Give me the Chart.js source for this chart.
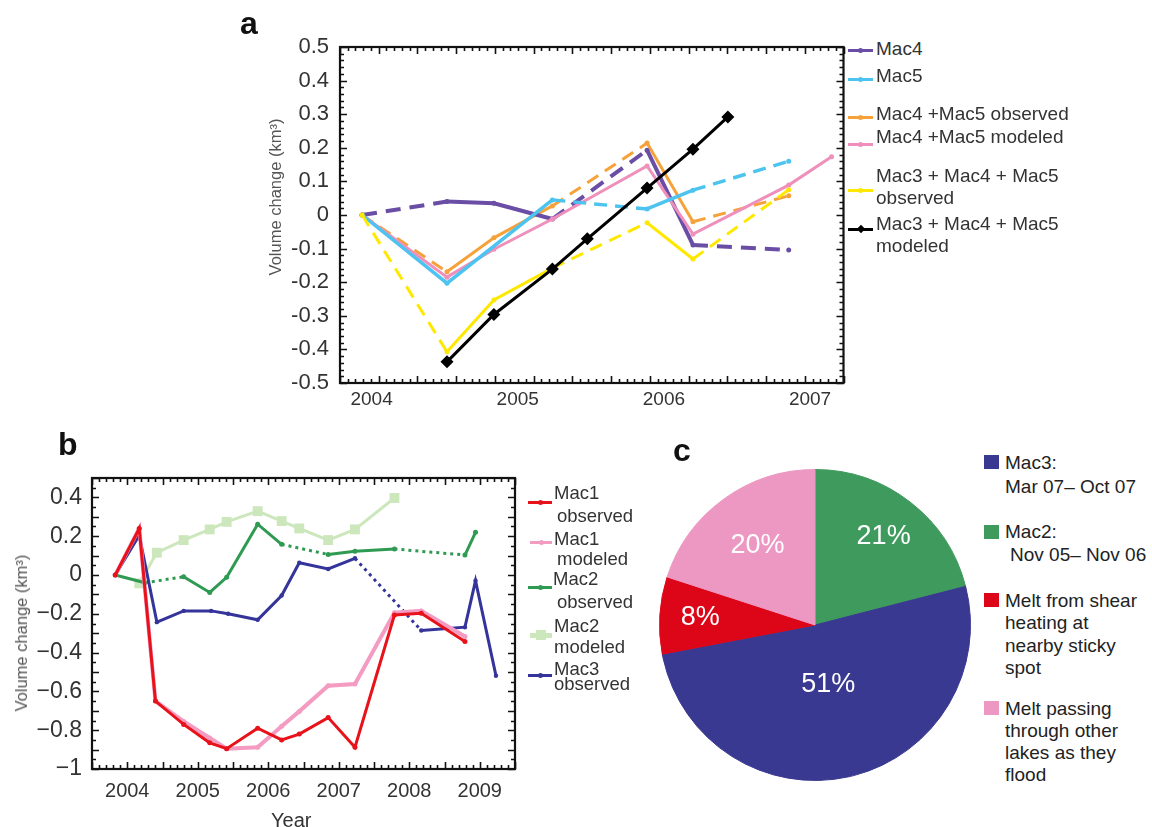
<!DOCTYPE html>
<html>
<head>
<meta charset="utf-8">
<title>Subglacial lake volume change</title>
<script src="https://cdn.jsdelivr.net/npm/chart.js"></script>
<style>
  html, body { margin: 0; padding: 0; background: #fff; }
  body { width: 1152px; height: 827px; overflow: hidden; position: relative;
         font-family: "Liberation Sans", Arial, Helvetica, sans-serif; }
  canvas { position: absolute; }
  .txt { position: absolute; white-space: pre; }
  .box { position: absolute; }
</style>
</head>
<body>
<canvas id="chartA" width="620" height="400" style="left:230px;top:20px;width:620px;height:400px"></canvas>
<canvas id="chartB" width="522" height="400" style="left:0px;top:440px;width:522px;height:400px"></canvas>
<canvas id="chartC" width="330" height="330" style="left:650px;top:460px;width:330px;height:330px"></canvas>
<script>
// ---------------- Panel a: Mac3–Mac5 volume change (km³) ----------------
const aYearTicks = [2004, 2005, 2006, 2007];
const aVolumeTicks = [0.5, 0.4, 0.3, 0.2, 0.1, 0, -0.1, -0.2, -0.3, -0.4, -0.5];

const mac4Years = [2003.935, 2004.516, 2004.837, 2005.237, 2005.885, 2006.199, 2006.854];
const mac4Volume = [0, 0.040, 0.035, -0.012, 0.193, -0.089, -0.104];

const mac5Years = [2003.935, 2004.516, 2005.237, 2005.885, 2006.199, 2006.854];
const mac5Volume = [0, -0.203, 0.045, 0.018, 0.074, 0.160];

const mac45ObsYears = [2003.935, 2004.516, 2004.837, 2005.237, 2005.885, 2006.199, 2006.854];
const mac45ObsVolume = [0, -0.169, -0.068, 0.027, 0.214, -0.020, 0.057];

const mac45ModYears = [2003.935, 2004.516, 2004.837, 2005.237, 2005.885, 2006.199, 2006.854, 2007.147];
const mac45ModVolume = [0, -0.185, -0.102, -0.012, 0.146, -0.057, 0.089, 0.173];

const mac345ObsYears = [2003.935, 2004.516, 2004.837, 2005.237, 2005.885, 2006.199, 2006.854];
const mac345ObsVolume = [0, -0.407, -0.253, -0.158, -0.023, -0.131, 0.075];

const mac345ModYears = [2004.516, 2004.837, 2005.237, 2005.476, 2005.885, 2006.199, 2006.438];
const mac345ModVolume = [-0.437, -0.296, -0.161, -0.071, 0.080, 0.196, 0.292];

// ---------------- Panel b: Mac1–Mac3 volume change (km³) ----------------
const bYearTicks = [2004, 2005, 2006, 2007, 2008, 2009];
const bVolumeTicks = [0.4, 0.2, 0, -0.2, -0.4, -0.6, -0.8, -1];

const mac1Years = [2003.83, 2004.17, 2004.40, 2004.80, 2005.17, 2005.41, 2005.85, 2006.19, 2006.44, 2006.85, 2007.23, 2007.79, 2008.17, 2008.79];
const mac1Observed = [0, 0.24, -0.65, -0.77, -0.865, -0.895, -0.79, -0.85, -0.82, -0.735, -0.888, -0.206, -0.197, -0.343];
const mac1Modeled = [0, 0.24, -0.65, -0.755, -0.84, -0.895, -0.888, -0.78, -0.703, -0.571, -0.562, -0.194, -0.185, -0.317];

const mac2ObsYears = [2003.83, 2004.25, 2004.80, 2005.17, 2005.41, 2005.85, 2006.19, 2006.85, 2007.23, 2007.79, 2008.79, 2008.94];
const mac2Observed = [0, -0.04, -0.009, -0.09, -0.012, 0.262, 0.158, 0.106, 0.123, 0.134, 0.103, 0.22];

const mac2ModYears = [2004.17, 2004.42, 2004.80, 2005.17, 2005.41, 2005.85, 2006.19, 2006.44, 2006.85, 2007.23, 2007.79];
const mac2Modeled = [-0.043, 0.115, 0.18, 0.235, 0.274, 0.329, 0.278, 0.24, 0.18, 0.235, 0.397];

const mac3Years = [2003.83, 2004.17, 2004.42, 2004.80, 2005.19, 2005.43, 2005.85, 2006.19, 2006.44, 2006.85, 2007.23, 2008.17, 2008.79, 2008.94, 2009.23];
const mac3Observed = [0, 0.205, -0.243, -0.185, -0.185, -0.2, -0.231, -0.106, 0.063, 0.031, 0.086, -0.286, -0.269, -0.029, -0.519];

// ---------------- Panel c: sources of Mac1 inflow (%) ----------------
const pieCategories = ['Mac2: Nov 05– Nov 06', 'Mac3: Mar 07– Oct 07',
  'Melt from shear heating at nearby sticky spot', 'Melt passing through other lakes as they flood'];
const pieShares = [21, 51, 8, 20];

// ---------------- styling ----------------
const FONT = '"Liberation Sans", Arial, Helvetica, sans-serif';
Chart.defaults.font.family = FONT;
Chart.defaults.color = '#333';
Chart.defaults.animation = false;

const C = {
  mac4: '#6a4ea6', mac5: '#4dc3f0', obs45: '#f6a23a', mod45: '#ef8fbb', obs345: '#ffe800', mod345: '#000000',
  m1obs: '#e8121b', m1mod: '#f49bc2', m2obs: '#2f9a52', m2mod: '#cde7bd', m3obs: '#34349a',
  pieMac2: '#3f9a5e', pieMac3: '#3a3991', pieShear: '#dc0618', pieLakes: '#ec98c2'
};

// which segments (starting at point i) are drawn broken
const mac4Broken = [1, 0, 0, 1, 0, 1];
const mac5Broken = [0, 0, 1, 0, 1];
const obs45Broken = [1, 0, 0, 1, 0, 1];
const obs345Broken = [1, 0, 0, 1, 0, 1];
const m2obsBroken = [0, 1, 0, 0, 0, 0, 1, 0, 0, 1, 0];
const m3obsBroken = [0, 0, 0, 0, 0, 0, 0, 0, 0, 0, 1, 0, 0, 0];

const pts = (xs, ys) => xs.map((x, i) => ({ x, y: ys[i] }));

function lineSet(label, xs, ys, color, width, broken, dash, extra) {
  return Object.assign({
    label, data: pts(xs, ys), borderColor: color, backgroundColor: color,
    borderWidth: width, pointRadius: 2.5, pointBorderWidth: 0, pointHoverRadius: 0,
    pointBackgroundColor: color, tension: 0, fill: false,
    segment: { borderDash: ctx => (broken && broken[ctx.p0DataIndex]) ? dash : undefined }
  }, extra || {});
}

// frame with inward tick marks on all four sides
function makeFrame(cfg) {
  return {
    id: 'frameTicks',
    afterDraw(chart) {
      const { ctx, chartArea: a } = chart;
      const xs = chart.scales.x, ys = chart.scales.y;
      ctx.save();
      ctx.setLineDash([]);
      ctx.strokeStyle = '#111111';
      ctx.lineWidth = 1.6;
      ctx.beginPath();
      for (let i = 0; i <= cfg.xN; i++) {
        const v = cfg.xMin + (cfg.xMax - cfg.xMin) * i / cfg.xN;
        const p = Math.round(xs.getPixelForValue(v)) + 0.5;
        const len = (i % cfg.xEvery === 0) ? cfg.major : cfg.minor;
        ctx.moveTo(p, a.bottom); ctx.lineTo(p, a.bottom - len);
        ctx.moveTo(p, a.top); ctx.lineTo(p, a.top + len);
      }
      for (let i = 0; i <= cfg.yN; i++) {
        const v = cfg.yMin + (cfg.yMax - cfg.yMin) * i / cfg.yN;
        const p = Math.round(ys.getPixelForValue(v)) + 0.5;
        const len = (i % cfg.yEvery === 0) ? cfg.major : cfg.minor;
        ctx.moveTo(a.left, p); ctx.lineTo(a.left + len, p);
        ctx.moveTo(a.right, p); ctx.lineTo(a.right - len, p);
      }
      ctx.stroke();
      ctx.lineWidth = 2.2;
      ctx.strokeRect(a.left, a.top, a.right - a.left, a.bottom - a.top);
      ctx.restore();
    }
  };
}

const A_X_MIN = 2003.784, A_X_MAX = 2007.229;
const B_X_MIN = 2003.5, B_X_MAX = 2009.5;

const fmtA = v => v === 0 ? '0' : v.toFixed(1);
const fmtB = v => v === 0 ? '0' : (v < 0 ? '\u2212' : '') + (Number.isInteger(v) ? String(Math.abs(v)) : Math.abs(v).toFixed(1));

// ---------------- Panel a chart ----------------
const dashA = [13, 8];
new Chart(document.getElementById('chartA'), {
  type: 'line',
  data: {
    datasets: [
      lineSet('Mac3 + Mac4 + Mac5 modeled', mac345ModYears, mac345ModVolume, C.mod345, 3, null, dashA,
        { pointStyle: 'rectRot', pointRadius: 6.5 }),
      lineSet('Mac3 + Mac4 + Mac5 observed', mac345ObsYears, mac345ObsVolume, C.obs345, 3, obs345Broken, dashA),
      lineSet('Mac5', mac5Years, mac5Volume, C.mac5, 3.5, mac5Broken, dashA),
      lineSet('Mac4 +Mac5 modeled', mac45ModYears, mac45ModVolume, C.mod45, 3, null, dashA),
      lineSet('Mac4', mac4Years, mac4Volume, C.mac4, 4, mac4Broken, [15, 9]),
      lineSet('Mac4 +Mac5 observed', mac45ObsYears, mac45ObsVolume, C.obs45, 3, obs45Broken, dashA)
    ]
  },
  options: {
    responsive: false,
    animation: false,
    events: [],
    layout: { padding: { left: 0, top: 27, right: 5, bottom: 0 } },
    plugins: { legend: { display: false }, tooltip: { enabled: false } },
    scales: {
      x: {
        type: 'linear', min: A_X_MIN, max: A_X_MAX,
        grid: { display: false, drawTicks: false }, border: { display: false },
        afterBuildTicks: s => { s.ticks = aYearTicks.map(v => ({ value: v })); },
        afterFit: s => { s.height = 37; },
        ticks: { autoSkip: false, maxRotation: 0, padding: 5, color: '#333', font: { size: 19 }, callback: v => String(v) }
      },
      y: {
        type: 'linear', min: -0.5, max: 0.5,
        grid: { display: false, drawTicks: false }, border: { display: false },
        afterBuildTicks: s => { s.ticks = aVolumeTicks.map(v => ({ value: v })); },
        afterFit: s => { s.width = 110; },
        ticks: { autoSkip: false, padding: 11, color: '#333', font: { size: 22 }, callback: v => fmtA(v) }
      }
    }
  },
  plugins: [makeFrame({ xMin: A_X_MIN, xMax: A_X_MAX, xN: 65, xEvery: 5,
                        yMin: -0.5, yMax: 0.5, yN: 50, yEvery: 5, major: 7, minor: 4 })]
});

// ---------------- Panel b chart ----------------
const dotB = [3, 4];
new Chart(document.getElementById('chartB'), {
  type: 'line',
  data: {
    datasets: [
      lineSet('Mac1 observed', mac1Years, mac1Observed, C.m1obs, 3, null, dotB),
      lineSet('Mac1 modeled', mac1Years, mac1Modeled, C.m1mod, 4, null, dotB),
      lineSet('Mac3 observed', mac3Years, mac3Observed, C.m3obs, 3, m3obsBroken, dotB, { pointRadius: 2.2 }),
      lineSet('Mac2 observed', mac2ObsYears, mac2Observed, C.m2obs, 3, m2obsBroken, dotB),
      lineSet('Mac2 modeled', mac2ModYears, mac2Modeled, C.m2mod, 3, null, dotB, { pointStyle: 'rect', pointRadius: 7 })
    ]
  },
  options: {
    responsive: false,
    animation: false,
    events: [],
    layout: { padding: { left: 0, top: 38, right: 5, bottom: 0 } },
    plugins: { legend: { display: false }, tooltip: { enabled: false } },
    scales: {
      x: {
        type: 'linear', min: B_X_MIN, max: B_X_MAX,
        grid: { display: false, drawTicks: false }, border: { display: false },
        afterBuildTicks: s => { s.ticks = bYearTicks.map(v => ({ value: v })); },
        afterFit: s => { s.height = 71; },
        ticks: { autoSkip: false, maxRotation: 0, padding: 10, color: '#333', font: { size: 20 }, callback: v => String(v) }
      },
      y: {
        type: 'linear', min: -1, max: 0.5,
        grid: { display: false, drawTicks: false }, border: { display: false },
        afterBuildTicks: s => { s.ticks = bVolumeTicks.map(v => ({ value: v })); },
        afterFit: s => { s.width = 92; },
        ticks: { autoSkip: false, padding: 10, color: '#333', font: { size: 23 }, callback: v => fmtB(v) }
      }
    }
  },
  plugins: [makeFrame({ xMin: B_X_MIN, xMax: B_X_MAX, xN: 60, xEvery: 5,
                        yMin: -1, yMax: 0.5, yN: 30, yEvery: 2, major: 7, minor: 4 })]
});

// ---------------- Panel c chart ----------------
const pieColors = [C.pieMac2, C.pieMac3, C.pieShear, C.pieLakes];
const labelRadial = [0.72, 0.39, 0.74, 0.63];
const sliceLabels = {
  id: 'sliceLabels',
  afterDatasetsDraw(chart) {
    const { ctx } = chart;
    const meta = chart.getDatasetMeta(0);
    const values = chart.data.datasets[0].data;
    ctx.save();
    ctx.fillStyle = '#ffffff';
    ctx.font = '27px ' + FONT;
    ctx.textAlign = 'center';
    ctx.textBaseline = 'middle';
    meta.data.forEach((arc, i) => {
      const { x, y, startAngle, endAngle, outerRadius } =
        arc.getProps(['x', 'y', 'startAngle', 'endAngle', 'outerRadius'], true);
      const mid = (startAngle + endAngle) / 2;
      const r = outerRadius * labelRadial[i];
      ctx.fillText(values[i] + '%', x + Math.cos(mid) * r, y + Math.sin(mid) * r);
    });
    ctx.restore();
  }
};
new Chart(document.getElementById('chartC'), {
  type: 'pie',
  data: {
    labels: pieCategories,
    datasets: [{ data: pieShares, backgroundColor: pieColors, borderColor: pieColors, borderWidth: 1 }]
  },
  options: {
    responsive: false,
    animation: false,
    events: [],
    layout: { padding: 9 },
    plugins: { legend: { display: false }, tooltip: { enabled: false } }
  },
  plugins: [sliceLabels]
});

// ---------------- text, axis titles and legends ----------------
function addText(str, left, cy, size, opts) {
  opts = opts || {};
  const d = document.createElement('div');
  d.className = 'txt';
  d.textContent = str;
  const lh = Math.round(size * 1.2);
  d.style.left = left + 'px';
  d.style.top = (cy - lh / 2) + 'px';
  d.style.fontSize = size + 'px';
  d.style.lineHeight = lh + 'px';
  d.style.color = opts.color || '#333';
  d.style.fontWeight = opts.weight || 'normal';
  document.body.appendChild(d);
  return d;
}
function addVertical(str, cx, cy, size, color) {
  const d = document.createElement('div');
  d.className = 'txt';
  d.textContent = str;
  d.style.left = cx + 'px';
  d.style.top = cy + 'px';
  d.style.fontSize = size + 'px';
  d.style.lineHeight = Math.round(size * 1.2) + 'px';
  d.style.color = color;
  d.style.transform = 'translate(-50%, -50%) rotate(-90deg)';
  document.body.appendChild(d);
}
function addBox(left, top, w, h, color, extra) {
  const d = document.createElement('div');
  d.className = 'box';
  d.style.left = left + 'px';
  d.style.top = top + 'px';
  d.style.width = w + 'px';
  d.style.height = h + 'px';
  d.style.background = color;
  if (extra) Object.assign(d.style, extra);
  document.body.appendChild(d);
}
function swatch(x1, x2, y, color, width, marker) {
  addBox(x1, y - width / 2, x2 - x1, width, color);
  const cx = (x1 + x2) / 2;
  if (marker === 'diamond') addBox(cx - 3, y - 3, 6, 6, color, { transform: 'rotate(45deg)' });
  else if (marker === 'square') addBox(cx - 5, y - 5, 10, 10, color);
  else addBox(cx - 2.5, y - 2.5, 5, 5, color, { borderRadius: '50%' });
}

// panel letters
addText('a', 240, 23, 32, { weight: 'bold', color: '#111' });
addText('b', 58, 444, 32, { weight: 'bold', color: '#111' });
addText('c', 673, 450, 32, { weight: 'bold', color: '#111' });

// axis titles
addVertical('Volume change (km\u00B3)', 275, 197, 16.5, '#555');
addVertical('Volume change (km\u00B3)', 21, 633, 16.5, '#555');
addText('Year', 271, 820, 20, { color: '#333' });

// panel a legend
const aLegendLines = [
  ['Mac4', 48], ['Mac5', 75.5], ['Mac4 +Mac5 observed', 113.3], ['Mac4 +Mac5 modeled', 136.7],
  ['Mac3 + Mac4 + Mac5', 175.3], ['observed', 197.5], ['Mac3 + Mac4 + Mac5', 223], ['modeled', 245]
];
aLegendLines.forEach(([t, y]) => addText(t, 876, y, 19));
swatch(848, 873, 50, C.mac4, 3);
swatch(848, 873, 79, C.mac5, 3);
swatch(848, 873, 117.5, C.obs45, 3);
swatch(848, 873, 144, C.mod45, 3);
swatch(848, 873, 190, C.obs345, 3);
swatch(848, 873, 229, C.mod345, 3, 'diamond');

// panel b legend
const bLegendLines = [
  ['Mac1', 554, 493], ['observed', 557, 515.5], ['Mac1', 554, 539], ['modeled', 557, 559],
  ['Mac2', 553, 579], ['observed', 557, 602], ['Mac2', 554, 626], ['modeled', 554, 647],
  ['Mac3', 554, 669], ['observed', 554, 684]
];
bLegendLines.forEach(([t, x, y]) => addText(t, x, y, 18.5));
swatch(528, 552, 502, C.m1obs, 3);
swatch(530, 552, 542, C.m1mod, 3);
swatch(528, 552, 587, C.m2obs, 3);
swatch(530, 552, 635, C.m2mod, 5, 'square');
swatch(528, 552, 675, C.m3obs, 3);

// panel c legend
const cLegend = [
  [C.pieMac3, 455, [['Mac3:', 1005, 462], ['Mar 07\u2013 Oct 07', 1005, 486]]],
  [C.pieMac2, 525, [['Mac2:', 1005, 531.5], ['Nov 05\u2013 Nov 06', 1010, 554]]],
  [C.pieShear, 593, [['Melt from shear', 1005, 600], ['heating at', 1005, 622], ['nearby sticky', 1005, 645], ['spot', 1005, 667]]],
  [C.pieLakes, 701, [['Melt passing', 1005, 708.5], ['through other', 1005, 730], ['lakes as they', 1005, 752], ['flood', 1005, 774]]]
];
cLegend.forEach(([color, top, lines]) => {
  addBox(984, top, 15, 14, color);
  lines.forEach(([t, x, y]) => addText(t, x, y, 19, { color: '#222' }));
});
</script>
</body>
</html>
